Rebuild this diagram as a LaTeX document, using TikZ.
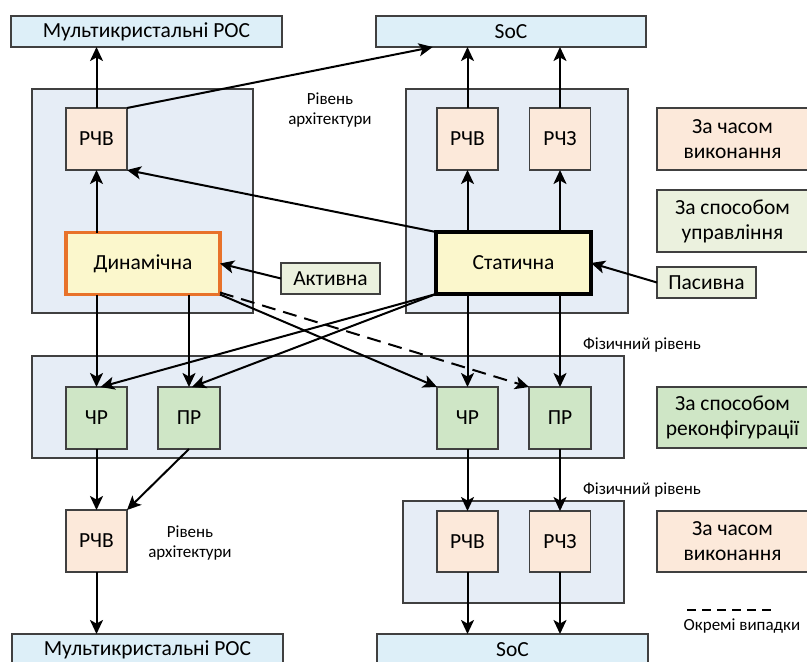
\documentclass[tikz,border=0pt]{standalone}
\usepackage{fontspec}
\setmainfont{Carlito}
\usetikzlibrary{arrows.meta,calc}
\definecolor{topblue}{HTML}{DDEFF8}
\definecolor{contblue}{HTML}{E6EDF6}
\definecolor{peach}{HTML}{FCE9DA}
\definecolor{lgreen}{HTML}{EBF1DE}
\definecolor{mgreen}{HTML}{CFE6C6}
\definecolor{yell}{HTML}{FBF7CC}
\definecolor{orng}{HTML}{E8722A}
\definecolor{bord}{HTML}{404040}
\tikzset{
  base/.style={draw=bord, line width=1.2pt, inner sep=0pt, outer sep=0pt, align=center,
    font=\fontsize{21.5}{25}\selectfont},
  bigbox/.style={base, fill=topblue, minimum width=271, minimum height=31},
  cont/.style={draw=bord, line width=1.2pt, fill=contblue, inner sep=0pt, outer sep=0pt},
  peachbox/.style={base, fill=peach, minimum width=61, minimum height=62},
  greenbox/.style={base, fill=mgreen, minimum width=61, minimum height=62},
  legbox/.style={base, minimum width=151, minimum height=62},
  tagbox/.style={base, fill=lgreen, minimum width=99, minimum height=31},
  kindbox/.style={base, fill=yell, line width=3.2pt, minimum width=154, minimum height=62},
  lbl/.style={align=center, font=\fontsize{17}{20}\selectfont, inner sep=0pt},
  arr/.style={line width=2pt, -{Stealth[length=14pt,width=13pt,inset=3.5pt]}},
}
\begin{document}
\begin{tikzpicture}[x=1pt,y=-1pt]
\useasboundingbox (0,0) rectangle (807,662);
% containers
\node[cont, minimum width=221, minimum height=224] (contTL) at (142.5,201) {};
\node[cont, minimum width=222, minimum height=224] (contTR) at (517,201) {};
\node[cont, minimum width=592, minimum height=102] (contM) at (328,407) {};
\node[cont, minimum width=221, minimum height=102] (contBR) at (513.5,552) {};
% top targets
\node[bigbox] (mulTop) at (146.5,31.5) {Мультикристальні РОС};
\node[bigbox, minimum width=270] (socTop) at (511,31.5) {SoC};
% upper level
\node[peachbox] (rchvTL) at (96.5,139) {РЧВ};
\node[peachbox] (rchvTR) at (467.5,139) {РЧВ};
\node[peachbox] (rchzTR) at (560,139) {РЧЗ};
\node[kindbox, draw=orng] (dyn) at (143,263.5) {Динамічна};
\node[kindbox, draw=black, minimum width=155] (stat) at (513.5,263) {Статична};
\node[tagbox] (act) at (330.5,278.5) {Активна};
\node[tagbox] (pas) at (706.5,282.5) {Пасивна};
% legend boxes
\node[legbox, fill=peach] (legT1) at (732.5,139) {За часом\\виконання};
\node[legbox, fill=lgreen] (legC) at (732.5,221) {За способом\\управління};
\node[legbox, fill=mgreen, minimum height=61] (legR) at (732.5,417.5) {За способом\\реконфігурації};
\node[legbox, fill=peach, minimum height=61] (legT2) at (732.5,541.5) {За часом\\виконання};
% middle level
\node[greenbox] (chrL) at (96.5,418) {ЧР};
\node[greenbox, minimum width=62] (prL) at (189,418) {ПР};
\node[greenbox] (chrR) at (467.5,418) {ЧР};
\node[greenbox, minimum width=62] (prR) at (560,418) {ПР};
% lower level
\node[peachbox] (rchvBL) at (96.5,541) {РЧВ};
\node[peachbox, minimum height=61] (rchvBR) at (467.5,541.5) {РЧВ};
\node[peachbox, minimum height=61] (rchzBR) at (560,541.5) {РЧЗ};
\node[bigbox, minimum height=32] (mulBot) at (147.5,650) {Мультикристальні РОС};
\node[bigbox, minimum height=32] (socBot) at (512.5,650) {SoC};
% labels
\node[lbl] (lvlA1) at (330,110) {Рівень\\архітектури};
\node[lbl] (lvlA2) at (190,543) {Рівень\\архітектури};
\node[lbl] (phys1) at (642,345) {Фізичний рівень};
\node[lbl] (phys2) at (642,490) {Фізичний рівень};
\coordinate (dashA) at (687,610);
\coordinate (dashB) at (772,610);
\draw[line width=1.2pt, dash pattern=on 9pt off 6pt] (dashA) -- (dashB);
\node[lbl] (sep) at (742,626) {Окремі випадки};
% arrows upward
\draw[arr] (rchvTL.north) -- (rchvTL.north |- mulTop.south);
\draw[arr] (rchvTL.north east) -- ($(socTop.south west)!0.21!(socTop.south east)$);
\draw[arr] (rchvTR.north) -- (rchvTR.north |- socTop.south);
\draw[arr] (rchzTR.north) -- (rchzTR.north |- socTop.south);
\draw[arr] (dyn.north -| rchvTL) -- (rchvTL.south);
\draw[arr] (stat.north west) -- (rchvTL.south east);
\draw[arr] (stat.north -| rchvTR) -- (rchvTR.south);
\draw[arr] (stat.north -| rchzTR) -- (rchzTR.south);
\draw[arr] (act.west) -- (dyn.east);
\draw[arr] (pas.west) -- (stat.east);
% arrows downward
\draw[arr] (dyn.south -| chrL) -- (chrL.north);
\draw[arr] (dyn.south -| prL) -- (prL.north);
\draw[arr] (dyn.south east) -- (chrR.north west);
\draw[arr, dash pattern=on 14pt off 8pt] ($(dyn.south east)+(0,-2)$) -- (prR.north west);
\draw[arr] (stat.south west) -- ($(chrL.north)+(4,0)$);
\draw[arr] (stat.south west) -- ($(prL.north)+(3,0)$);
\draw[arr] (stat.south -| chrR) -- (chrR.north);
\draw[arr] (stat.south -| prR) -- (prR.north);
\draw[arr] (chrL.south) -- (rchvBL.north);
\draw[arr] (prL.south) -- (rchvBL.north east);
\draw[arr] (rchvBL.south) -- (rchvBL.south |- mulBot.north);
\draw[arr] (chrR.south) -- (rchvBR.north);
\draw[arr] (prR.south) -- (rchzBR.north);
\draw[arr] (rchvBR.south) -- (rchvBR.south |- socBot.north);
\draw[arr] (rchzBR.south) -- (rchzBR.south |- socBot.north);
\end{tikzpicture}
\end{document}
